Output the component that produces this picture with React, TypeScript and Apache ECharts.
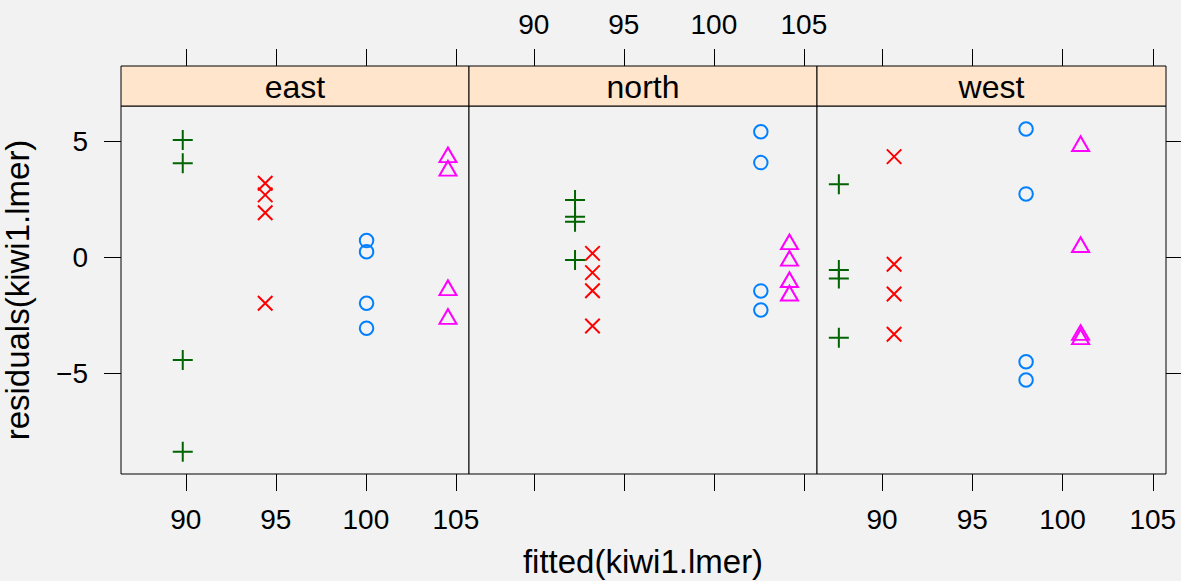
import React, { useEffect, useRef } from "react";
import * as echarts from "echarts";

// ---- data ----
const panelNames = ["east", "north", "west"];
const xTicks = [90, 95, 100, 105];
const yTicks = [-5, 0, 5];

// fitted value of each of the four groups (+, ×, ○, △) in each panel
const eastFitted = [89.83, 94.41, 100.04, 104.56];
const northFitted = [92.29, 93.26, 102.61, 104.2];
const westFitted = [87.61, 90.67, 97.98, 101.0];

// residuals for each group
const eastPlus = [5.06, 4.05, -4.43, -8.38];
const eastCross = [3.19, 2.69, 1.92, -1.98];
const eastCircle = [0.72, 0.24, -1.98, -3.06];
const eastTriangle = [4.31, 3.73, -1.42, -2.66];

const northPlus = [2.47, 1.75, 1.53, -0.12];
const northCross = [0.17, -0.66, -1.44, -2.96];
const northCircle = [5.41, 4.08, -1.45, -2.27];
const northTriangle = [0.56, -0.15, -1.07, -1.65];

const westPlus = [3.15, -0.55, -0.91, -3.47];
const westCross = [4.34, -0.3, -1.58, -3.32];
const westCircle = [5.53, 2.73, -4.5, -5.29];
const westTriangle = [4.79, 0.44, -3.35, -3.53];

const fittedByPanel = [eastFitted, northFitted, westFitted];
const residByPanel = [
  [eastPlus, eastCross, eastCircle, eastTriangle],
  [northPlus, northCross, northCircle, northTriangle],
  [westPlus, westCross, westCircle, westTriangle],
];

const xMin = 86.4;
const xMax = 105.73;
const yMin = -9.34;
const yMax = 6.52;

// ---- styling ----
const FONT = "'Liberation Sans', Arial, Helvetica, sans-serif";
const groupColors = ["#006400", "#ff0000", "#0080ff", "#ff00ff"];
const groupSymbols = [
  "path://M0,10L20,10M10,0L10,20",
  "path://M0,0L20,20M20,0L0,20",
  "path://M10,0A10,10,0,1,1,10,20A10,10,0,1,1,10,0Z",
  "path://M0,17.32L10,0L20,17.32Z",
];
const groupSizes: any[] = [20, 14.5, 13.5, [17, 14.7]];
const groupOffsets: any[] = [[0, 0], [0, 0], [0, 0], [0, -2.45]];

const panelLeft = [121, 469, 817];
const panelWidth = [348, 348, 349];
const panelTop = 106;
const panelHeight = 368;
const stripHeight = 40;

const minus = (v: number) => String(v).replace("-", "\u2212");

export default function App() {
  const ref = useRef<HTMLDivElement>(null);

  useEffect(() => {
    document.body.style.margin = "0";
    document.body.style.background = "#f2f2f2";
    const chart = echarts.init(ref.current!, null, { renderer: "svg" });

    const grids = panelLeft.map((l, i) => ({
      left: l,
      top: panelTop,
      width: panelWidth[i],
      height: panelHeight,
      show: true,
      backgroundColor: "#f2f2f2",
      borderColor: "#000",
      borderWidth: 1,
      containLabel: false,
      outerBoundsMode: "none",
    }));

    const tickStyle = { color: "#000", width: 1 };
    const labelStyle = { color: "#000", fontSize: 28, fontFamily: FONT };

    const bottomAxes = panelNames.map((_, i) => ({
      type: "value",
      gridIndex: i,
      position: "bottom",
      min: xMin,
      max: xMax,
      axisLine: { show: false, onZero: false },
      axisTick: { show: true, inside: false, length: 17, lineStyle: tickStyle, customValues: xTicks },
      axisLabel: { show: i !== 1, margin: 31, ...labelStyle, customValues: xTicks },
      splitLine: { show: false },
      ...(i === 1
        ? {
            name: "fitted(kiwi1.lmer)",
            nameLocation: "middle",
            nameGap: 71,
            nameTextStyle: { color: "#000", fontSize: 33, fontFamily: FONT },
          }
        : {}),
    }));

    const topAxes = panelNames.map((_, i) => ({
      type: "value",
      gridIndex: i,
      position: "top",
      offset: stripHeight,
      min: xMin,
      max: xMax,
      axisLine: { show: false, onZero: false },
      axisTick: { show: true, inside: false, length: 17, lineStyle: tickStyle, customValues: xTicks },
      axisLabel: { show: i === 1, margin: 28, ...labelStyle, customValues: xTicks },
      splitLine: { show: false },
    }));

    const yAxes = panelNames.map((_, i) => ({
      type: "value",
      gridIndex: i,
      position: i === 2 ? "right" : "left",
      min: yMin,
      max: yMax,
      axisLine: { show: false, onZero: false },
      axisTick: {
        show: i !== 1,
        inside: false,
        length: 17,
        lineStyle: tickStyle,
        customValues: yTicks,
      },
      axisLabel: {
        show: i === 0,
        margin: 33,
        ...labelStyle,
        customValues: yTicks,
        formatter: (v: number) => minus(v),
      },
      splitLine: { show: false },
      ...(i === 0
        ? {
            name: "residuals(kiwi1.lmer)",
            nameLocation: "middle",
            nameGap: 87,
            nameRotate: 90,
            nameTextStyle: { color: "#000", fontSize: 33, fontFamily: FONT },
          }
        : {}),
    }));

    const series: any[] = [];
    panelNames.forEach((p, pi) => {
      residByPanel[pi].forEach((resid, gi) => {
        series.push({
          type: "scatter",
          name: `${p}-${gi + 1}`,
          xAxisIndex: pi,
          yAxisIndex: pi,
          symbol: groupSymbols[gi],
          symbolSize: groupSizes[gi],
          symbolOffset: groupOffsets[gi],
          itemStyle: {
            color: "transparent",
            borderColor: groupColors[gi],
            borderWidth: 2,
            opacity: 1,
          },
          emphasis: { disabled: true },
          data: resid.map((r) => [fittedByPanel[pi][gi], r]),
        });
      });
    });

    const graphics: any[] = [];
    panelNames.forEach((p, i) => {
      graphics.push({
        type: "rect",
        shape: { x: panelLeft[i], y: panelTop - stripHeight, width: panelWidth[i], height: stripHeight },
        style: { fill: "#ffe5cc", stroke: "#000", lineWidth: 1 },
        z: 10,
      });
      graphics.push({
        type: "text",
        x: panelLeft[i] + panelWidth[i] / 2,
        y: panelTop - stripHeight / 2 + 1,
        style: {
          text: p,
          fill: "#000",
          fontSize: 32,
          fontFamily: FONT,
          align: "center",
          verticalAlign: "middle",
        },
        z: 11,
      });
    });

    chart.setOption({
      animation: false,
      backgroundColor: "#f2f2f2",
      tooltip: { show: false },
      grid: grids,
      xAxis: [...bottomAxes, ...topAxes],
      yAxis: yAxes,
      series,
      graphic: graphics,
    });

    return () => chart.dispose();
  }, []);

  return (
    <div
      ref={ref}
      style={{ position: "fixed", left: 0, top: 0, width: 1181, height: 581, background: "#f2f2f2" }}
    />
  );
}
